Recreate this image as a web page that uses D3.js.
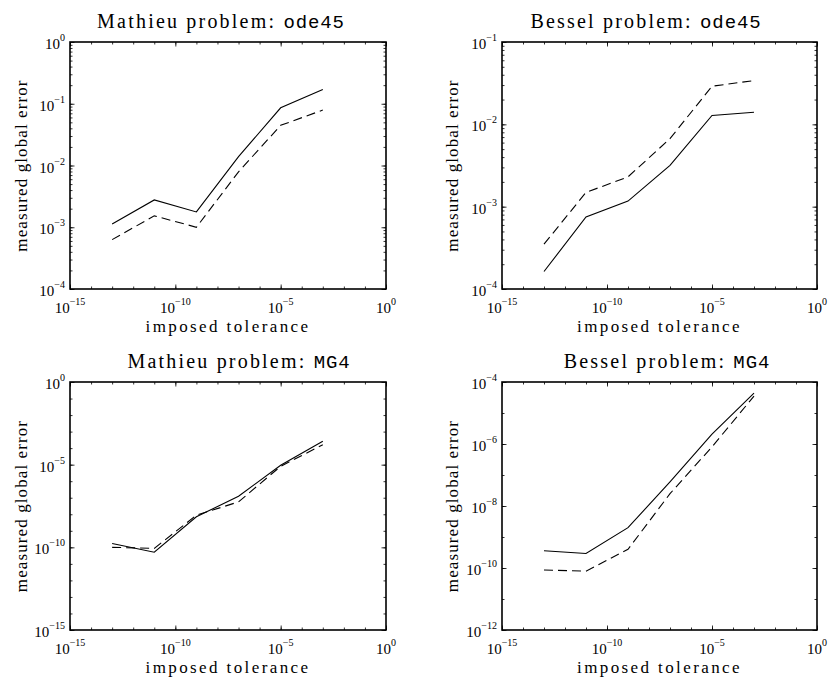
<!DOCTYPE html>
<html><head><meta charset="utf-8">
<script src="https://cdn.jsdelivr.net/npm/d3@7"></script>
<style>
body{margin:0;background:#fff;}
svg{display:block;font-family:"Liberation Serif","Times New Roman",serif;}
text{fill:#000;}
</style>
</head><body>
<svg id="chart" width="830" height="681"></svg>
<script>
// ---- data ----
const tolerances = [1e-13, 1e-11, 1e-9, 1e-7, 1e-5, 1e-3];

const mathieuOde45Solid  = [1.13e-3, 2.77e-3, 1.77e-3, 1.39e-2, 8.6e-2, 1.7e-1];
const mathieuOde45Dashed = [6.3e-4, 1.53e-3, 1.0e-3, 7.9e-3, 4.47e-2, 7.9e-2];
const besselOde45Solid   = [1.63e-4, 7.5e-4, 1.17e-3, 3.18e-3, 1.28e-2, 1.4e-2];
const besselOde45Dashed  = [3.5e-4, 1.49e-3, 2.3e-3, 6.7e-3, 2.9e-2, 3.4e-2];
const mathieuMG4Solid    = [1.7e-10, 5.1e-11, 7e-9, 1.24e-7, 9.3e-6, 2.6e-4];
const mathieuMG4Dashed   = [1.0e-10, 8.6e-11, 8.8e-9, 5.6e-8, 8e-6, 1.6e-4];
const besselMG4Solid     = [3.6e-10, 2.95e-10, 2.0e-9, 6.0e-8, 2.07e-6, 4.4e-5];
const besselMG4Dashed    = [8.6e-11, 7.9e-11, 4e-10, 2.5e-8, 8.1e-7, 3.5e-5];

const xTickExponents = [-15, -10, -5, 0];
const titles = [["Mathieu problem: ", "ode45"], ["Bessel problem: ", "ode45"],
                ["Mathieu problem: ", "MG4"], ["Bessel problem: ", "MG4"]];
const yDomains = [[1e-4, 1e0], [1e-4, 1e-1], [1e-15, 1e0], [1e-12, 1e-4]];
const yLabelExponents = [[-4, -3, -2, -1, 0], [-4, -3, -2, -1], [-15, -10, -5, 0], [-12, -10, -8, -6, -4]];
const solidSeries  = [mathieuOde45Solid, besselOde45Solid, mathieuMG4Solid, besselMG4Solid];
const dashedSeries = [mathieuOde45Dashed, besselOde45Dashed, mathieuMG4Dashed, besselMG4Dashed];
const xLabel = "imposed tolerance";
const yLabel = "measured global error";

// ---- layout ----
const panels = [
  {left: 70,  top: 42,  right: 386, bottom: 289, titleX: 221, titleY: 28, ylabX: 27},
  {left: 502, top: 42,  right: 817, bottom: 289, titleX: 646, titleY: 28, ylabX: 458},
  {left: 70,  top: 382, right: 386, bottom: 630, titleX: 239, titleY: 368, ylabX: 27},
  {left: 502, top: 382, right: 817, bottom: 630, titleX: 667, titleY: 368, ylabX: 458}
];
const serif = "Liberation Serif";
const mono = "Liberation Mono";
const svg = d3.select("#chart");

function minus(e){ return e < 0 ? "\u2212" + (-e) : String(e); }

panels.forEach((p, i) => {
  const w = p.right - p.left, h = p.bottom - p.top;
  const x = d3.scaleLog().domain([1e-15, 1]).range([0, w]);
  const y = d3.scaleLog().domain(yDomains[i]).range([h, 0]);
  const g = svg.append("g").attr("transform", `translate(${p.left},${p.top})`);

  const xMajor = xTickExponents.map(e => Math.pow(10, e));
  const xMinor = d3.range(-15, 1).map(e => Math.pow(10, e));
  const yMajor = yLabelExponents[i].map(e => Math.pow(10, e));
  const lo = Math.round(Math.log10(yDomains[i][0])), hi = Math.round(Math.log10(yDomains[i][1]));
  let yMinor = [];
  const nDec = hi - lo;
  for (let e = lo; e < hi; e++) {
    yMinor.push(Math.pow(10, e));
    if (nDec <= 4) for (let k = 2; k <= 9; k++) yMinor.push(k * Math.pow(10, e));
  }

  function tickAxis(axisFn, scale, vals, size, transform) {
    const a = g.append("g").attr("transform", transform)
      .call(axisFn(scale).tickValues(vals).tickSize(size).tickFormat(() => ""));
    a.select(".domain").remove();
    a.selectAll("text").remove();
    a.selectAll("line").attr("stroke", "#000").attr("stroke-width", 0.8);
  }
  // inside ticks on all four sides
  tickAxis(d3.axisBottom, x, xMinor, -2.5, `translate(0,${h})`);
  tickAxis(d3.axisBottom, x, xMajor, -4.5, `translate(0,${h})`);
  tickAxis(d3.axisTop, x, xMinor, -2.5, `translate(0,0)`);
  tickAxis(d3.axisTop, x, xMajor, -4.5, `translate(0,0)`);
  tickAxis(d3.axisLeft, y, yMinor, -2.5, `translate(0,0)`);
  tickAxis(d3.axisLeft, y, yMajor, -4.5, `translate(0,0)`);
  tickAxis(d3.axisRight, y, yMinor, -2.5, `translate(${w},0)`);
  tickAxis(d3.axisRight, y, yMajor, -4.5, `translate(${w},0)`);

  // frame
  g.append("rect").attr("x", 0).attr("y", 0).attr("width", w).attr("height", h)
    .attr("fill", "none").attr("stroke", "#000").attr("stroke-width", 1.6);

  // x tick labels
  xTickExponents.forEach(e => {
    const t = g.append("text").attr("x", x(Math.pow(10, e))).attr("y", h + 24)
      .attr("text-anchor", "middle").attr("font-family", serif);
    t.append("tspan").attr("font-size", 15).text("10");
    t.append("tspan").attr("font-size", 10).attr("dy", -8).text(minus(e));
  });
  // y tick labels
  yLabelExponents[i].forEach(e => {
    const t = g.append("text").attr("x", -5).attr("y", y(Math.pow(10, e)) + 7)
      .attr("text-anchor", "end").attr("font-family", serif);
    t.append("tspan").attr("font-size", 15).text("10");
    t.append("tspan").attr("font-size", 10).attr("dy", -8).text(minus(e));
  });

  // data lines
  const line = d3.line().x(d => x(d[0])).y(d => y(d[1]));
  g.append("path").datum(tolerances.map((t, k) => [t, solidSeries[i][k]]))
    .attr("d", line).attr("fill", "none").attr("stroke", "#000").attr("stroke-width", 1.1);
  g.append("path").datum(tolerances.map((t, k) => [t, dashedSeries[i][k]]))
    .attr("d", line).attr("fill", "none").attr("stroke", "#000").attr("stroke-width", 1.1)
    .attr("stroke-dasharray", "9,5");

  // title
  const tt = svg.append("text").attr("x", p.titleX).attr("y", p.titleY)
    .attr("text-anchor", "middle").attr("font-family", serif).attr("font-size", 20)
    .attr("letter-spacing", 2.2);
  tt.append("tspan").text(titles[i][0]);
  tt.append("tspan").attr("font-family", mono).attr("font-size", 19)
    .attr("letter-spacing", 0.9).text(titles[i][1]);

  // axis labels
  svg.append("text").attr("x", p.left + w / 2).attr("y", p.bottom + 43)
    .attr("text-anchor", "middle").attr("font-family", serif).attr("font-size", 17)
    .attr("letter-spacing", 2.4).text(xLabel);
  svg.append("text").attr("transform", `translate(${p.ylabX},${p.top + h / 2}) rotate(-90)`)
    .attr("text-anchor", "middle").attr("font-family", serif).attr("font-size", 17)
    .attr("letter-spacing", 1.1).text(yLabel);
});
</script>
</body></html>
